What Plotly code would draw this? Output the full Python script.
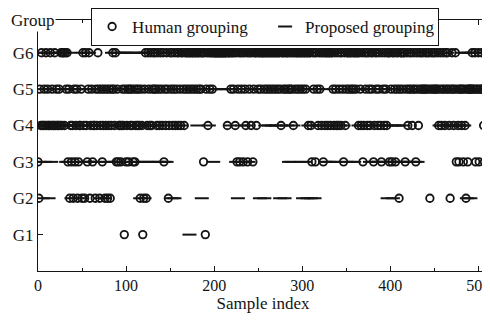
import plotly.graph_objects as go

# ---------------- data ----------------
GROUP_LABELS = ["G1", "G2", "G3", "G4", "G5", "G6"]
GROUP_VALUES = [1, 2, 3, 4, 5, 6]
X_TICKS = [0, 100, 200, 300, 400, 500]

# Group (1..6) of every sample; each line holds 32 consecutive samples
# (line k -> sample indices 32*k ... 32*k+31).
HUMAN_GROUPING = [
    "32546445" "46454464" "54464544" "54646646",
    "56352434" "25345234" "45264264" "35624534",
    "42546524" "53452452" "45245654" "63534434",
    "54153453" "54543534" "54542541" "25624654",
    "64565654" "65465463" "54652465" "64564564",
    "65466546" "56656656" "65665665" "65663615",
    "64656656" "66666666" "66666664" "66656656",
    "46356365" "63654636" "56463566" "46566566",
    "65665665" "66566566" "56654665" "65665656",
    "56465665" "66566566" "56646643" "65636546",
    "56463646" "64664665" "46546456" "46536456",
    "65665656" "65664654" "63465646" "54656346",
    "56456436" "54654663" "65366536" "56256656",
    "63564565" "64565365" "46565655" "65656256",
    "56565564" "56456546" "56542565" "45635435",
    "54535425" "35555655" "63556355" "65435545",
]

PROPOSED_GROUPING = [
    "64345246" "34542643" "54645445" "46454644",
    "35346524" "53452435" "42364564" "35643544",
    "35453452" "45452454" "35436546" "35434634",
    "65465465" "45435463" "54652463" "52634653",
    "46546453" "65365463" "56356456" "25625646",
    "65646566" "56651665" "66566456" "65266566",
    "65466563" "66566656" "66656665" "66465665",
    "63625636" "46356463" "65665665" "66562665",
    "62465646" "56466546" "65624656" "25645365",
    "36456656" "65663265" "36246526" "46256456",
    "46564636" "46366436" "56346564" "65646653",
    "65636563" "65664564" "56456456" "43563436",
    "46534653" "46346253" "64326543" "65463564",
    "35635635" "65653653" "56565556" "55656565",
    "56565565" "45645654" "56545545" "54554554",
    "54654652" "56525655" "65565565" "56556555",
]

LINE_LEN = 32


def to_points(lines):
    xs, ys = [], []
    for k, line in enumerate(lines):
        for j, ch in enumerate(line):
            xs.append(LINE_LEN * k + j)
            ys.append(int(ch))
    return xs, ys


hx, hy = to_points(HUMAN_GROUPING)
px_, py_ = to_points(PROPOSED_GROUPING)

INK = "#141414"
FONT = "Liberation Serif, 'Times New Roman', DejaVu Serif, serif"

fig = go.Figure()
fig.add_trace(go.Scatter(
    x=hx, y=hy, mode="markers", name="Human grouping",
    marker=dict(symbol="circle-open", size=7.5, color=INK,
                line=dict(width=1.8, color=INK)),
))
fig.add_trace(go.Scatter(
    x=px_, y=py_, mode="markers", name="Proposed grouping",
    marker=dict(symbol="line-ew", size=10, color=INK,
                line=dict(width=2, color=INK)),
))

# the page body adds an 8 px offset, so the figure is 8 px smaller
fig.update_layout(
    width=482, height=313,
    margin=dict(l=30, r=2, t=12, b=50, autoexpand=False),
    paper_bgcolor="white", plot_bgcolor="white",
    font=dict(family=FONT, size=17, color=INK),
    showlegend=True,
    legend=dict(
        orientation="h", x=0.118, y=1.048, xanchor="left", yanchor="top",
        bgcolor="white", bordercolor=INK, borderwidth=1,
        font=dict(family=FONT, size=17, color=INK),
        entrywidth=128, entrywidthmode="pixels",
        tracegroupgap=0,
    ),
)

fig.update_xaxes(
    range=[0, 511], tickvals=X_TICKS, ticktext=[str(v) for v in X_TICKS],
    ticks="inside", ticklen=5, tickcolor=INK, showline=True, linecolor=INK,
    linewidth=1, mirror="ticks", showgrid=False, zeroline=False,
    automargin=False, ticklabeloverflow="allow",
    minor=dict(ticks="inside", ticklen=3, dtick=50, tickcolor=INK),
    tickfont=dict(family=FONT, size=16, color=INK),
    title=dict(text="Sample index", standoff=2,
               font=dict(family=FONT, size=17, color=INK)),
)
fig.update_yaxes(
    range=[0, 6.9], tickvals=GROUP_VALUES, ticktext=GROUP_LABELS,
    ticks="inside", ticklen=5, tickcolor=INK, showline=True, linecolor=INK,
    linewidth=1, mirror="ticks", showgrid=False, zeroline=False,
    automargin=False, ticklabeloverflow="allow",
    tickfont=dict(family=FONT, size=17, color=INK),
)

fig.add_annotation(
    text="Group", xref="paper", yref="paper", x=-0.065, y=1.0,
    xanchor="left", yanchor="middle", showarrow=False, bgcolor="white",
    font=dict(family=FONT, size=17, color=INK),
)

fig.write_html("out.html")
